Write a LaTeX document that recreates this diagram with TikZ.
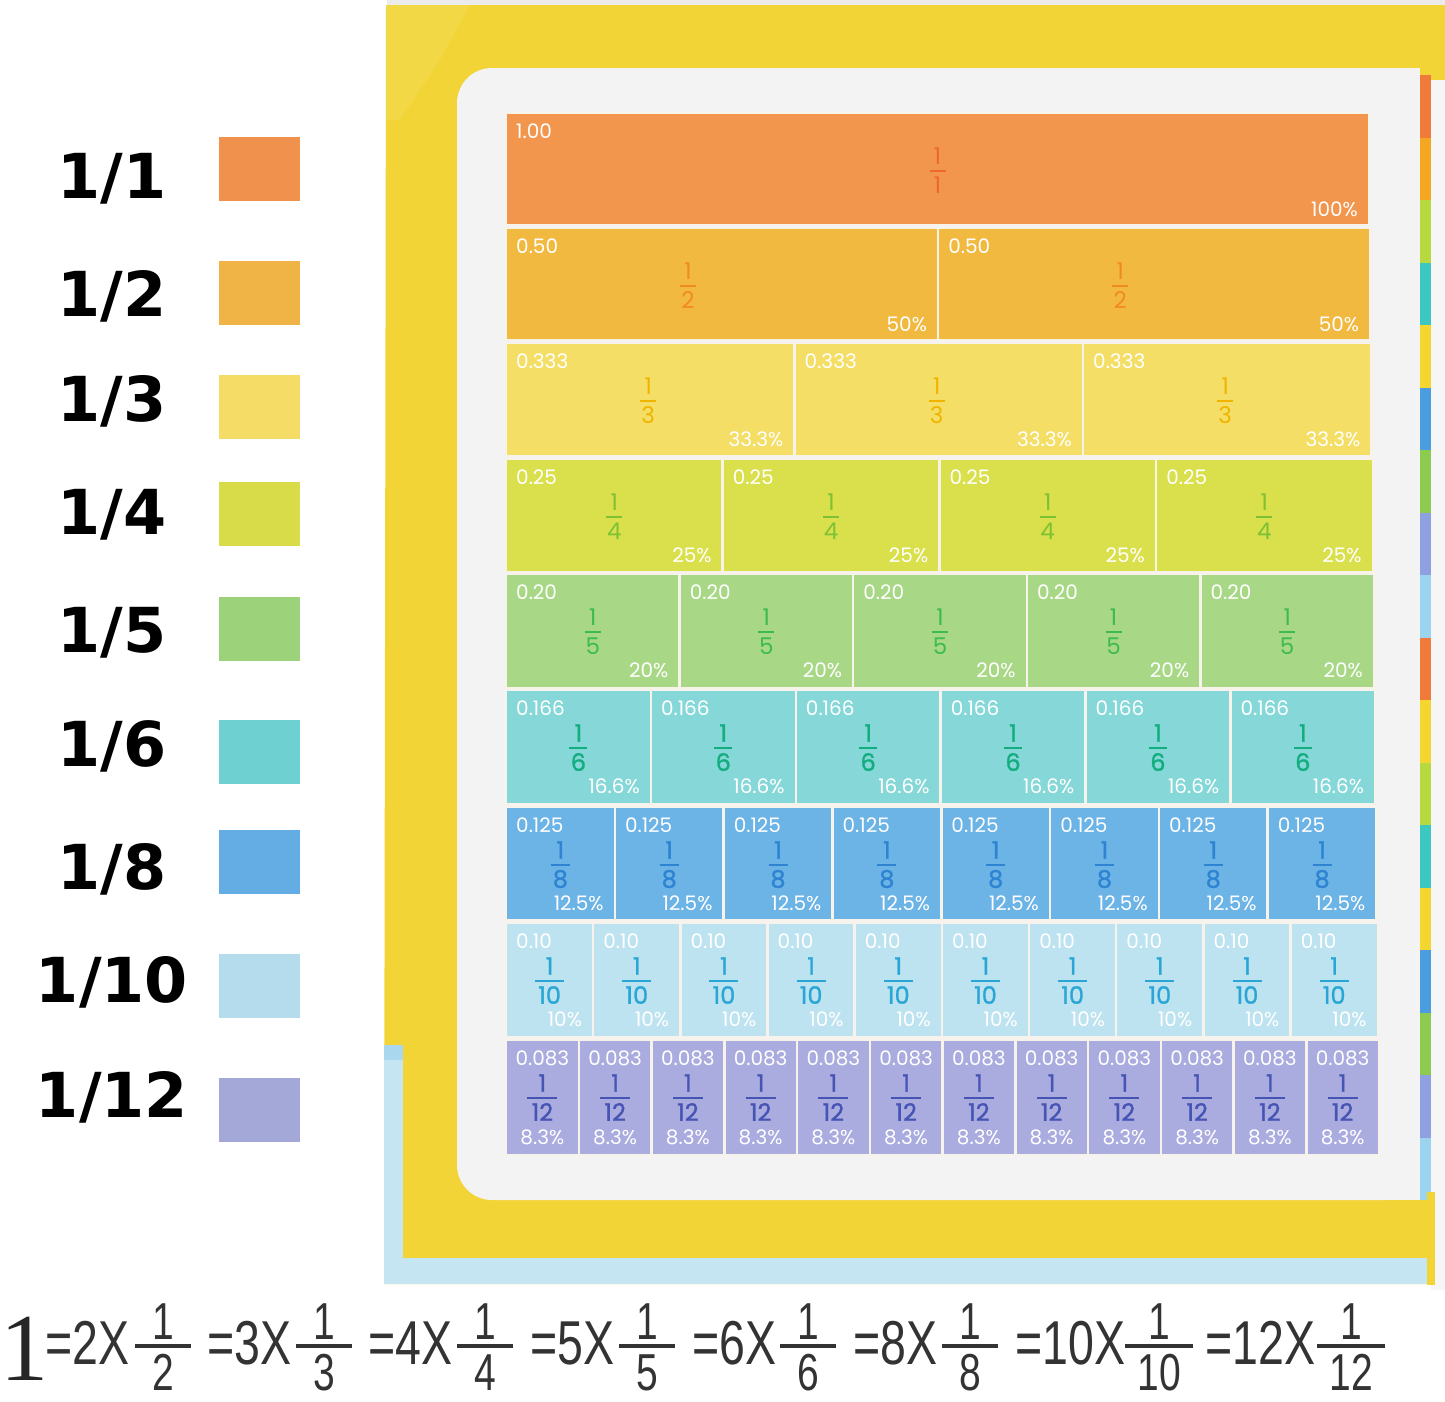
\documentclass[tikz,border=0pt]{standalone}
\usepackage{fontspec}
\setmainfont{Liberation Sans}
\newfontfamily\cellfont{Poppins}
\newfontfamily\cellbold[FakeBold=1.2]{Poppins}
\newfontfamily\legfont{DejaVu Sans}
\newfontfamily\eqfont[FakeStretch=0.75]{Liberation Sans}
\newfontfamily\onefont{Liberation Serif}
\definecolor{boardY}{HTML}{F2D436}
\definecolor{boardYl}{HTML}{F3D846}
\definecolor{panel}{HTML}{F3F3F3}
\definecolor{lblue}{HTML}{C6E5F2}
\definecolor{lblue2}{HTML}{A9D8EE}
\definecolor{pagew}{HTML}{F6F6F6}
\definecolor{cellline}{HTML}{F8F3EA}
\definecolor{eqgray}{HTML}{333333}
% row fills
\definecolor{r1}{HTML}{F2964E}
\definecolor{r2}{HTML}{F2B940}
\definecolor{r3}{HTML}{F4DE66}
\definecolor{r4}{HTML}{DADF4C}
\definecolor{r5}{HTML}{A8D886}
\definecolor{r6}{HTML}{86D8D8}
\definecolor{r7}{HTML}{6CB3E6}
\definecolor{r8}{HTML}{BEE3F0}
\definecolor{r9}{HTML}{AAABDE}
% fraction colours
\definecolor{t1}{HTML}{EC6830}
\definecolor{t2}{HTML}{F08C1C}
\definecolor{t3}{HTML}{F0B400}
\definecolor{t4}{HTML}{7CC234}
\definecolor{t5}{HTML}{3DBB4E}
\definecolor{t6}{HTML}{14AD80}
\definecolor{t7}{HTML}{2E84D2}
\definecolor{t8}{HTML}{2AA6D6}
\definecolor{t9}{HTML}{4654B4}
% legend colours
\definecolor{l1}{HTML}{F0924E}
\definecolor{l2}{HTML}{F0B446}
\definecolor{l3}{HTML}{F5DC66}
\definecolor{l4}{HTML}{D8DC48}
\definecolor{l5}{HTML}{9CD27A}
\definecolor{l6}{HTML}{6ED0D0}
\definecolor{l7}{HTML}{64ACE4}
\definecolor{l8}{HTML}{B4DCEC}
\definecolor{l9}{HTML}{A4A8D8}
% strip colours
\definecolor{s1}{HTML}{F07A3A}
\definecolor{s2}{HTML}{F5A623}
\definecolor{s3}{HTML}{B8D840}
\definecolor{s4}{HTML}{3CC8C0}
\definecolor{s5}{HTML}{F5D530}
\definecolor{s6}{HTML}{4A9EE0}
\definecolor{s7}{HTML}{8CCB50}
\definecolor{s8}{HTML}{8FA0E0}
\definecolor{s9}{HTML}{9CD4F0}
\tikzset{
  cell/.style={line width=2.5pt, draw=cellline},
  dectext/.style={font=\cellfont\fontsize{20}{20}\selectfont, text=white, inner sep=0pt},
  fthin/.style={font=\cellfont\fontsize{23}{23}\selectfont, inner sep=0pt},
  fbold/.style={font=\cellbold\fontsize{24}{24}\selectfont, inner sep=0pt},
  legtext/.style={font=\legfont\bfseries\fontsize{62}{62}\selectfont, inner sep=0pt, anchor=base},
  legbox/.style={minimum width=81pt, minimum height=64pt, inner sep=0pt},
  eqtext/.style={font=\eqfont\fontsize{62}{62}\selectfont, text=eqgray, inner sep=0pt, anchor=base west, text depth=0pt},
  eqfrac/.style={font=\eqfont\fontsize{52}{52}\selectfont, text=eqgray, inner sep=0pt, anchor=base, text depth=0pt},
  eqline/.style={line width=4pt, draw=eqgray},
}
\begin{document}
\begin{tikzpicture}[x=1pt,y=-1pt]
\useasboundingbox (0,0) rectangle (1445,1401);
\fill[white] (0,0) rectangle (1445,1401);

% ---------- board ----------
\fill[black!8] (387,0) rectangle (1445,6);
\fill[boardY] (386,5) -- (1445,5) -- (1445,80) -- (1432,80) -- (1432,1284) -- (384,1284) -- cycle;
\fill[boardYl] (386,5) -- (470,5) -- (440,60) -- (400,120) -- (386,120) -- cycle;
\fill[lblue] (384,1258) rectangle (1432,1284);
\fill[lblue] (384,1045) rectangle (403,1284);
\fill[lblue2] (384,1045) rectangle (403,1060);
\fill[panel, rounded corners=35pt] (457,68) rectangle (1420,1200);
\fill[panel] (1380,68) rectangle (1420,1200);
\fill[pagew] (1431,80) rectangle (1445,1290);
\foreach \c [count=\j] in {s1,s2,s3,s4,s5,s6,s7,s8,s9,s1,s5,s3,s4,s5,s6,s7,s8,s9}
  \fill[\c] (1420,{75+(\j-1)*62.5}) rectangle (1431,{75+\j*62.5});
\fill[boardY] (1427,1192) rectangle (1435,1285);

% ---------- fraction chart ----------
\foreach \n/\T/\B/\dec/\pct/\fc/\tc/\den/\fs/\lw/\fx [count=\k] in {
  1/113/225/1.00/100\%/r1/t1/1/fthin/16/0,
  2/228/340/0.50/50\%/r2/t2/2/fthin/16/-34,
  3/343/456/0.333/33.3\%/r3/t3/3/fthin/16/-2,
  4/459/572/0.25/25\%/r4/t4/4/fthin/16/0,
  5/574/688/0.20/20\%/r5/t5/5/fthin/16/0,
  6/690/804/0.166/16.6\%/r6/t6/6/fbold/18/0,
  8/807/920/0.125/12.5\%/r7/t7/8/fbold/19/0,
  10/923/1037/0.10/10\%/r8/t8/10/fbold/29/0,
  12/1040/1155/0.083/8.3\%/r9/t9/12/fbold/30/0}{
  \pgfmathsetmacro\R{1369+(\k-1)*1.25}
  \pgfmathsetmacro\w{(\R-506)/\n}
  \foreach \i in {1,...,\n}{
    \pgfmathsetmacro\xl{506+(\i-1)*\w}
    \pgfmathsetmacro\xr{\xl+\w}
    \pgfmathsetmacro\xc{\xl+\w/2+\fx}
    \filldraw[cell, fill=\fc] (\xl,\T) rectangle (\xr,\B);
    \ifnum\k=9
      \node[dectext] (dec-\k-\i) at (\xl+\w/2,\T+18) {\dec};
      \node[dectext] (pct-\k-\i) at (\xl+\w/2,\T+97) {\pct};
    \else
      \node[dectext, anchor=west] (dec-\k-\i) at (\xl+10,\T+18) {\dec};
      \node[dectext, anchor=east] (pct-\k-\i) at (\xr-11,\T+96) {\pct};
    \fi
    \node[\fs, text=\tc] (num-\k-\i) at (\xc,\T+43) {1};
    \node[\fs, text=\tc] (den-\k-\i) at (\xc,\T+72) {\den};
    \draw[\tc, line width=2pt] (\xc-\lw/2,\T+57.5) -- (\xc+\lw/2,\T+57.5);
  }
}

% ---------- legend ----------
\foreach \ld/\by/\sy/\lc [count=\k] in {
  1/198/169/l1, 2/316/293/l2, 3/421/407/l3, 4/534/514/l4,
  5/652/629/l5, 6/766/752/l6, 8/889/862/l7, 10/1002/986/l8,
  12/1117/1110/l9}{
  \node[legtext] (leg-\k) at (112,\by) {1/\ld};
  \node[legbox, fill=\lc] (sq-\k) at (259.5,\sy) {};
}

% ---------- equation ----------
\node[font=\onefont\fontsize{96}{96}\selectfont, text=black!85, inner sep=0pt, anchor=base, text depth=0pt] (one) at (24.5,1380) {1};
\foreach \t/\tx/\d/\cx/\fw [count=\k] in {
  =2X/45/2/163/56, =3X/207/3/324/56, =4X/368/4/485/56, =5X/530/5/647/56,
  =6X/692/6/808/56, =8X/853/8/970/56, =10X/1015/10/1159/68, =12X/1205/12/1351/68}{
  \node[eqtext] (eq-\k) at (\tx,1364) {\t};
  \node[eqfrac] (en-\k) at (\cx,1339) {1};
  \node[eqfrac] (ed-\k) at (\cx,1390) {\d};
  \draw[eqline] (\cx-\fw/2,1346) -- (\cx+\fw/2,1346);
}
\end{tikzpicture}
\end{document}
